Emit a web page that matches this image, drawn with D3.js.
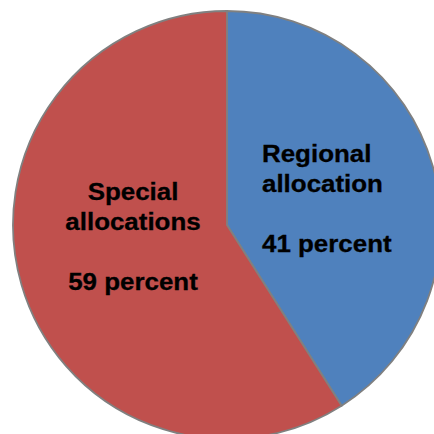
<!DOCTYPE html>
<html>
<head>
<meta charset="utf-8">
<script src="https://cdn.jsdelivr.net/npm/d3@7"></script>
<style>
  html, body { margin: 0; padding: 0; background: #fff; overflow: hidden; }
  svg { display: block; }
</style>
</head>
<body>
<svg id="chart" width="434" height="434"></svg>
<script>
// Allocation shares (percent)
const categories = ["Regional allocation", "Special allocations"];
const values = [41, 59];
const labelLines = [
  ["Regional", "allocation", "", "41 percent"],
  ["Special", "allocations", "", "59 percent"]
];
const colors = ["#4F81BD", "#C0504D"];

const cx = 227, cy = 225, radius = 214;

const svg = d3.select("#chart");
const g = svg.append("g").attr("transform", `translate(${cx},${cy})`);

const pie = d3.pie().sort(null).value(d => d)(values);
const arc = d3.arc().innerRadius(0).outerRadius(radius);

g.selectAll("path.slice")
  .data(pie)
  .join("path")
  .attr("class", "slice")
  .attr("d", arc)
  .attr("fill", (d, i) => colors[i])
  .attr("stroke", "#808080")
  .attr("stroke-width", 1.8)
  .attr("stroke-linejoin", "round");

// Label placement: regional text left-aligned, special text centred
const labelPos = [
  { x: 262 - cx, y: 161.5 - cy, anchor: "start" },
  { x: 133 - cx, y: 199.5 - cy, anchor: "middle" }
];
const lineStep = 30.3;
const stretch = 1.08;

pie.forEach((d, i) => {
  const t = g.append("text")
    .attr("transform", `translate(${labelPos[i].x},${labelPos[i].y}) scale(${stretch},1)`)
    .attr("text-anchor", labelPos[i].anchor)
    .attr("font-family", "'Liberation Sans', Arial, sans-serif")
    .attr("font-weight", "bold")
    .attr("font-size", 24)
    .attr("stroke", "#000")
    .attr("stroke-width", 0.3)
    .attr("fill", "#000");
  labelLines[i].forEach((line, k) => {
    t.append("tspan")
      .attr("x", 0)
      .attr("y", k * lineStep)
      .text(line);
  });
});
</script>
</body>
</html>
